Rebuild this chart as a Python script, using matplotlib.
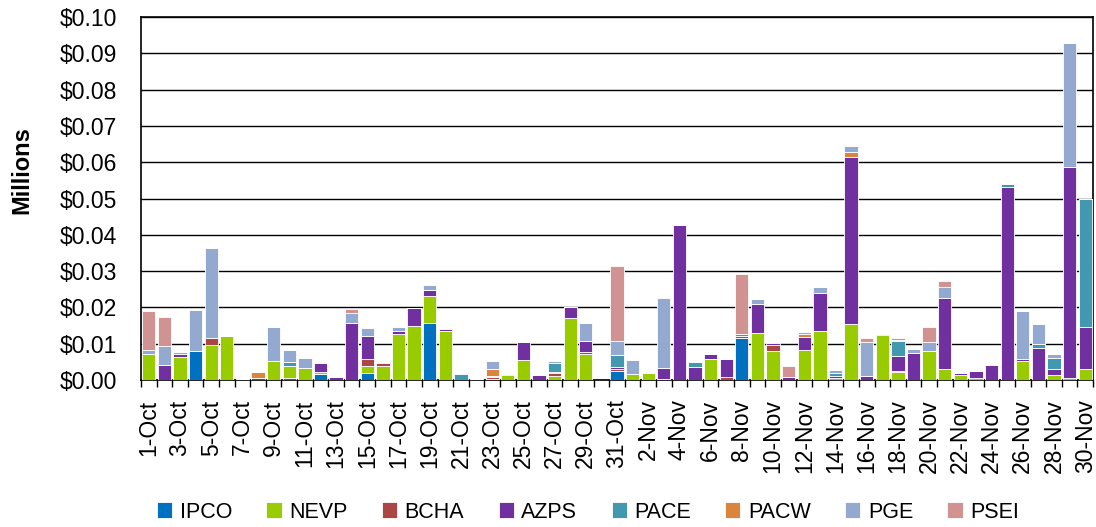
import matplotlib
matplotlib.use("Agg")
import matplotlib.pyplot as plt
import numpy as np
from matplotlib.ticker import FuncFormatter, MultipleLocator, FixedLocator

plt.rcParams['font.family'] = ['Liberation Sans', 'DejaVu Sans']

# Days: 1-Oct .. 31-Oct, 1-Nov .. 30-Nov
days = [f"{d}-Oct" for d in range(1, 32)] + [f"{d}-Nov" for d in range(1, 31)]
n = len(days)

def series(entries):
    vals = [0.0] * n
    for i, v in entries.items():
        vals[i] = v
    return vals

ipco = series({3: 0.0081, 9: 0.0006, 11: 0.0017, 14: 0.0020, 18: 0.0156,
               22: 0.0003, 30: 0.0026, 38: 0.0117})

nevp = series({0: 0.0073, 2: 0.0064, 4: 0.0096, 5: 0.0122, 8: 0.0052, 9: 0.0033,
               10: 0.0034, 11: 0.0006, 14: 0.0019, 15: 0.0039, 16: 0.0126,
               17: 0.0150, 18: 0.0076, 19: 0.0135, 23: 0.0014, 24: 0.0055,
               26: 0.0011, 27: 0.0170, 28: 0.0072, 31: 0.0017, 32: 0.0018,
               33: 0.0004, 36: 0.0057, 39: 0.0130, 40: 0.0080, 42: 0.0083,
               43: 0.0135, 44: 0.0006, 45: 0.0153, 47: 0.0124, 48: 0.0023,
               50: 0.0080, 51: 0.0030, 52: 0.0013, 53: 0.0006, 56: 0.0053,
               58: 0.0014, 59: 0.0005, 60: 0.0029})

bcha = series({4: 0.0020, 14: 0.0019, 15: 0.0007, 22: 0.0004, 26: 0.0007,
               28: 0.0006, 30: 0.0005, 37: 0.0007, 38: 0.0004, 40: 0.0016,
               48: 0.0003})

azps = series({1: 0.0041, 2: 0.0008, 7: 0.0005, 11: 0.0025, 12: 0.0009,
               13: 0.0156, 14: 0.0064, 15: 0.0004, 16: 0.0010, 17: 0.0047,
               18: 0.0016, 19: 0.0006, 23: 0.0003, 24: 0.0049, 25: 0.0014,
               26: 0.0005, 27: 0.0032, 28: 0.0029, 30: 0.0004, 33: 0.0029,
               34: 0.0427, 35: 0.0037, 36: 0.0015, 37: 0.0050, 39: 0.0079,
               40: 0.0005, 41: 0.0009, 42: 0.0036, 43: 0.0105, 44: 0.0005,
               45: 0.0462, 46: 0.0012, 47: 0.0004, 48: 0.0041, 49: 0.0075,
               51: 0.0197, 52: 0.0005, 53: 0.0020, 54: 0.0040, 55: 0.0532,
               56: 0.0006, 57: 0.0089, 58: 0.0015, 59: 0.0582, 60: 0.0118})

pace = series({9: 0.0011, 20: 0.0017, 22: 0.0004, 26: 0.0025, 30: 0.0035,
               35: 0.0013, 38: 0.0005, 44: 0.0007, 48: 0.0040, 55: 0.0009,
               57: 0.0009, 58: 0.0031, 60: 0.0353})

pacw = series({7: 0.0018, 22: 0.0018, 42: 0.0008, 45: 0.0013})

pge = series({0: 0.0009, 1: 0.0053, 2: 0.0005, 3: 0.0112, 4: 0.0249, 6: 0.0003,
              8: 0.0093, 9: 0.0034, 10: 0.0026, 13: 0.0029, 14: 0.0022,
              16: 0.0009, 18: 0.0013, 19: 0.0002, 20: 0.0002, 21: 0.0003,
              22: 0.0022, 26: 0.0003, 28: 0.0049, 30: 0.0037, 31: 0.0038,
              33: 0.0194, 39: 0.0013, 40: 0.0005, 42: 0.0004, 43: 0.0017,
              44: 0.0010, 45: 0.0018, 46: 0.0094, 48: 0.0003, 49: 0.0011,
              50: 0.0026, 51: 0.0028, 56: 0.0132, 57: 0.0056, 58: 0.0013,
              59: 0.0341})

psei = series({0: 0.0107, 1: 0.0080, 13: 0.0010, 30: 0.0206, 38: 0.0166,
               41: 0.0029, 46: 0.0011, 48: 0.0007, 50: 0.0039, 51: 0.0017})

names = ["IPCO", "NEVP", "BCHA", "AZPS", "PACE", "PACW", "PGE", "PSEI"]
data = [ipco, nevp, bcha, azps, pace, pacw, pge, psei]
colors = ["#0070C0", "#99CC00", "#AA4643", "#7030A0", "#4198AF", "#DB843D",
          "#93A9CF", "#D19392"]

fig = plt.figure(figsize=(10.96, 5.27), dpi=100)
ax = fig.add_axes([141 / 1096, 1 - 380 / 527, (1093 - 141) / 1096, (380 - 17) / 527])

x = np.arange(n)
bottom = np.zeros(n)
for name, vals, col in zip(names, data, colors):
    v = np.array(vals)
    ax.bar(x, v, width=0.85, bottom=bottom, color=col, edgecolor="white",
           linewidth=0.6, label=name, zorder=3)
    bottom += v

ax.set_xlim(-0.5, n - 0.5)
ax.set_ylim(0, 0.10)
ax.yaxis.set_major_locator(MultipleLocator(0.01))
ax.yaxis.set_major_formatter(FuncFormatter(lambda v, p: f"${v:.2f}"))
ax.grid(axis="y", color="black", linewidth=1.0, zorder=0)
ax.set_axisbelow(True)

ax.set_xticks(x[::2])
ax.set_xticklabels(days[::2], rotation=90, va="top", ha="center")
ax.xaxis.set_minor_locator(FixedLocator(np.arange(-0.5, n, 1.0)))
ax.tick_params(axis="x", which="major", length=0, pad=14, labelsize=16.5)
ax.tick_params(axis="x", which="minor", length=5, width=1.0, color="black")
ax.tick_params(axis="y", length=0, pad=17, labelsize=16.5)

for s in ax.spines.values():
    s.set_color("black")
    s.set_linewidth(1.2)

fig.text(22 / 1096, 1 - 170 / 527, "Millions", rotation=90, fontsize=17,
         fontweight="bold", ha="center", va="center")

fig.legend(loc="center", bbox_to_anchor=(588 / 1096, 1 - 512 / 527), ncol=8,
           frameon=False, fontsize=15.5, handlelength=0.7, handleheight=0.7,
           handletextpad=0.35, columnspacing=1.6)

fig.savefig("out.png", dpi=100)
